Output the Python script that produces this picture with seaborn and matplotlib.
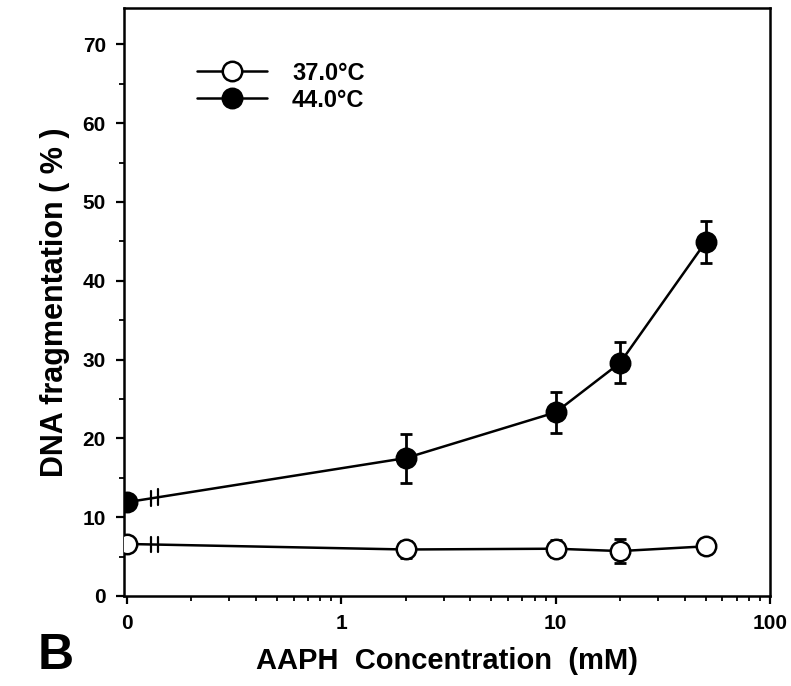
import numpy as np
import pandas as pd
import matplotlib
matplotlib.use("Agg")
import matplotlib.pyplot as plt
import seaborn as sns
from matplotlib.ticker import FixedLocator, NullFormatter, LogLocator

# Data
conc = [0, 2, 10, 20, 50]           # AAPH concentration (mM); 0 drawn at axis break
x_tick_labels = ["0", "1", "10", "100"]
temp_labels = ["37.0\u00b0C", "44.0\u00b0C"]
frag_37 = [6.6, 5.9, 6.0, 5.7, 6.3]
err_37 = [0.0, 1.1, 1.1, 1.5, 0.0]
frag_44 = [11.9, 17.5, 23.3, 29.6, 44.9]
err_44 = [0.0, 3.1, 2.6, 2.6, 2.7]

ZERO_POS = 0.1  # position where the "0" concentration is drawn on log axis

sns.set_style("ticks")
plt.rcParams['font.family'] = ['Liberation Sans', 'DejaVu Sans']
plt.rcParams['font.weight'] = 'bold'
for k in ["text.color", "axes.labelcolor", "xtick.color", "ytick.color", "axes.edgecolor"]:
    plt.rcParams[k] = "black"

xp = [ZERO_POS if c == 0 else c for c in conc]
df = pd.DataFrame({
    "x": xp * 2,
    "y": frag_37 + frag_44,
    "err": err_37 + err_44,
    "temp": [temp_labels[0]] * len(conc) + [temp_labels[1]] * len(conc),
})

fig = plt.figure(figsize=(7.91, 6.86), dpi=100)
ax = fig.add_axes([0.1568, 0.1312, 0.8167, 0.8571])

ms = 14
for lab, face in zip(temp_labels, ["white", "black"]):
    sub = df[df.temp == lab]
    ax.errorbar(sub.x, sub.y, yerr=sub.err, fmt="none", ecolor="black",
                elinewidth=2, capsize=4, capthick=2, zorder=2)
    sns.lineplot(data=sub, x="x", y="y", ax=ax, color="black", lw=1.8,
                 marker="o", markersize=ms, markerfacecolor=face,
                 markeredgecolor="black", markeredgewidth=1.8,
                 label=lab, zorder=3)

ax.set_xscale("log")
ax.set_xlim(0.097, 100)
ax.set_ylim(0, 74.6)

# axis-break marks on the lines near zero
for ys in (frag_37, frag_44):
    lx0, lx1 = np.log10(ZERO_POS), np.log10(conc[1])
    for bx in (0.129, 0.14):
        t = (np.log10(bx) - lx0) / (lx1 - lx0)
        yb = ys[0] + t * (ys[1] - ys[0])
        ax.plot([bx, bx], [yb - 1.0, yb + 1.0], color="black", lw=1.6, zorder=4)

ax.xaxis.set_major_locator(FixedLocator([ZERO_POS, 1, 10, 100]))
ax.set_xticklabels(x_tick_labels)
ax.xaxis.set_minor_locator(LogLocator(base=10, subs=np.arange(2, 10), numticks=20))
ax.xaxis.set_minor_formatter(NullFormatter())
ax.set_yticks(np.arange(0, 71, 10))
ax.set_yticks(np.arange(5, 71, 10), minor=True)

ax.tick_params(axis="both", which="major", direction="out", length=6, width=1.6,
               labelsize=15, pad=7)
ax.tick_params(axis="both", which="minor", direction="out", length=3.5, width=1.3)
for lbl in ax.get_xticklabels() + ax.get_yticklabels():
    lbl.set_fontweight("bold")

for s in ax.spines.values():
    s.set_linewidth(1.8)
    s.set_color("black")

ax.set_xlabel("AAPH  Concentration  (mM)", fontsize=21, fontweight="bold", labelpad=10)
ax.set_ylabel("DNA fragmentation ( % )", fontsize=22, fontweight="bold", labelpad=9)

leg = ax.legend(loc="upper left", bbox_to_anchor=(0.08, 0.945), frameon=False,
                handlelength=2.97, handletextpad=1.06, labelspacing=0.17,
                prop={"weight": "bold", "size": 17})

fig.text(0.048, 0.025, "B", fontsize=36, fontweight="bold")

fig.savefig("out.png", dpi=100)
